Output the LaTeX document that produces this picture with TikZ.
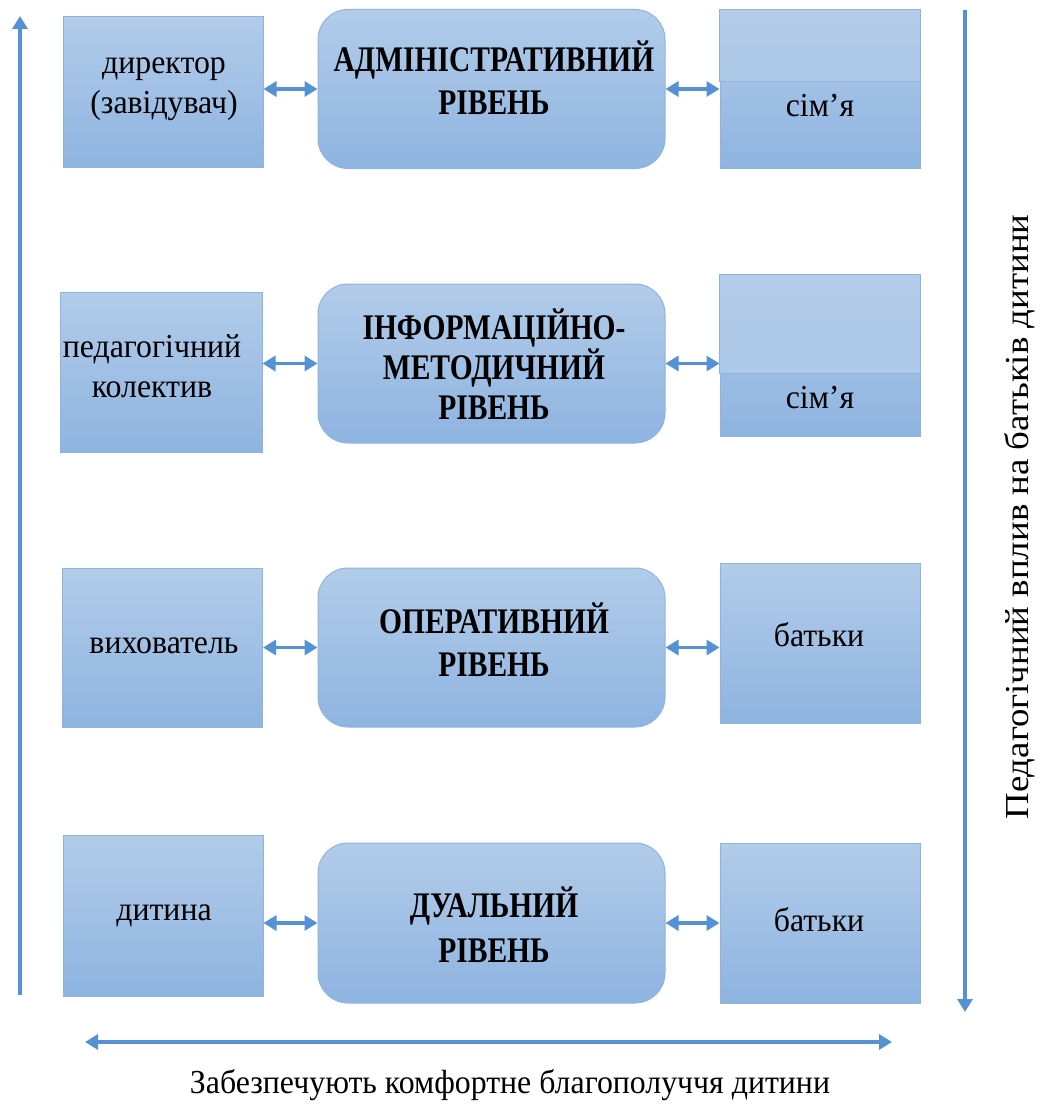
\documentclass[tikz,border=0pt]{standalone}
\usepackage{fontspec}
\setmainfont{Liberation Serif}[FakeStretch=0.95]
\newfontfamily\lvlfont{Liberation Serif}[FakeStretch=0.82]
\newfontfamily\rotfont{Liberation Serif}[FakeStretch=1.1]
\usetikzlibrary{arrows.meta}
\definecolor{lt}{RGB}{178,204,233}
\definecolor{dk}{RGB}{142,180,225}
\definecolor{bd}{RGB}{141,179,226}
\definecolor{ar}{RGB}{84,146,212}
\begin{document}
\begin{tikzpicture}[x=1pt,y=-1pt,
  box/.style={draw=bd, line width=1pt, top color=lt, bottom color=dk, inner sep=0pt},
  lvl/.style={box, rounded corners=30pt, minimum width=347pt, minimum height=159pt},
  side/.style={box, minimum width=200pt, minimum height=159pt},
  upper/.style={draw=bd, line width=1pt, top color=lt, bottom color=lt!85!dk},
  txt/.style={align=center, inner sep=0pt, font=\fontsize{33.5}{40}\selectfont},
  lvltxt/.style={align=center, inner sep=0pt, font=\fontsize{36}{43}\lvlfont\bfseries},
  dbl/.style={draw=ar, line width=3.2pt, {Triangle[length=13pt,width=15pt]}-{Triangle[length=13pt,width=15pt]}},
  one/.style={draw=ar, line width=3.2pt, -{Triangle[length=13pt,width=15pt]}}]
\useasboundingbox (0,0) rectangle (1039,1113);

% row 1
\node[side, minimum height=150pt] (l1) at (163,92) {};
\node[txt] (l1t) at (164,89) {директор\\(завідувач)};
\node[lvl] (c1) at (491.5,89) {};
\node[lvltxt] (c1t) at (494,78) {АДМІНІСТРАТИВНИЙ\\РІВЕНЬ};
\node[side, minimum height=158pt] (r1) at (820,89) {};
\fill[upper] (r1.north west) rectangle (r1.east |- 0,82);
\node[txt] (r1t) at (820,106) {сім’я};

% row 2
\node[side, minimum width=202pt, minimum height=160pt] (l2) at (161,372) {};
\node[txt] (l2t) at (152,366) {педагогічний\\колектив};
\node[lvl] (c2) at (491.5,363.5) {};
\node[lvltxt, font=\fontsize{36}{40}\lvlfont\bfseries] (c2t) at (494,364) {ІНФОРМАЦІЙНО-\\МЕТОДИЧНИЙ\\РІВЕНЬ};
\node[side, minimum height=161pt] (r2) at (820,355.5) {};
\fill[upper] (r2.north west) rectangle (r2.east |- 0,373);
\node[txt] (r2t) at (820,398) {сім’я};

% row 3
\node[side] (l3) at (162.5,647.5) {};
\node[txt] (l3t) at (164,646) {вихователь};
\node[lvl] (c3) at (491.5,647.5) {};
\node[lvltxt] (c3t) at (494,640) {ОПЕРАТИВНИЙ\\РІВЕНЬ};
\node[side, minimum height=160pt] (r3) at (820,643) {};
\node[txt] (r3t) at (819,635) {батьки};

% row 4
\node[side, minimum height=161pt] (l4) at (163,915.5) {};
\node[txt] (l4t) at (164,916) {дитина};
\node[lvl, minimum height=160pt] (c4) at (491.5,923) {};
\node[lvltxt, font=\fontsize{36}{45}\lvlfont\bfseries] (c4t) at (494,925) {ДУАЛЬНИЙ\\РІВЕНЬ};
\node[side, minimum height=160pt] (r4) at (820,923) {};
\node[txt] (r4t) at (819,920) {батьки};

% horizontal connectors
\foreach \i in {1,2,3,4}{
  \draw[dbl] (l\i.east |- c\i.west) -- (c\i.west);
  \draw[dbl] (c\i.east) -- (c\i.east -| r\i.west);
}

% outer arrows
\coordinate (lb) at (20,995);
\coordinate (lt) at (20,16);
\coordinate (rt) at (965,10);
\coordinate (rb) at (965,1012);
\coordinate (bl) at (85,1042);
\coordinate (br) at (892,1042);
\draw[one] (lb) -- (lt);
\draw[one] (rt) -- (rb);
\draw[dbl] (bl) -- (br);

\node[txt] (bt) at (510,1085) {Забезпечують комфортне благополуччя дитини};
\node[txt, font=\fontsize{33.5}{40}\rotfont, rotate=90] (rtxt) at (1020,517) {Педагогічний вплив на батьків дитини};
\end{tikzpicture}
\end{document}
